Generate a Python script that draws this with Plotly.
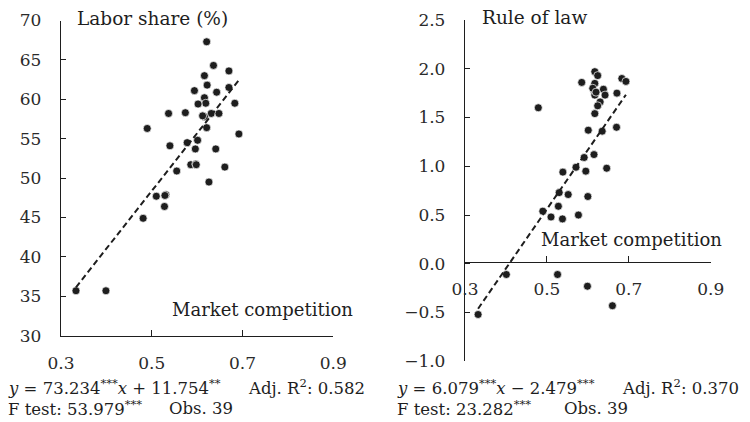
import plotly.graph_objects as go

# Market competition index and labor share (%) for 39 observations
comp_a = [0.621, 0.636, 0.616, 0.670, 0.622, 0.594, 0.643, 0.670, 0.616, 0.619,
          0.602, 0.683, 0.537, 0.574, 0.631, 0.648, 0.616, 0.621, 0.490, 0.692,
          0.601, 0.578, 0.540, 0.596, 0.641, 0.586, 0.597, 0.661, 0.555, 0.626,
          0.510, 0.531, 0.528, 0.481, 0.333, 0.399, 0.612, 0.598, 0.529]
labor = [67.3, 64.3, 63.0, 63.6, 61.8, 61.1, 60.9, 61.5, 60.2, 59.5,
         59.4, 59.5, 58.2, 58.3, 58.2, 58.2, 57.8, 56.4, 56.3, 55.6,
         54.8, 54.5, 54.1, 53.7, 53.7, 51.7, 51.8, 51.4, 50.9, 49.5,
         47.7, 47.9, 46.4, 44.9, 35.7, 35.7, 57.9, 51.7, 47.8]

# Market competition index and rule of law score for 39 observations
comp_b = [0.479, 0.585, 0.617, 0.624, 0.617, 0.616, 0.638, 0.642, 0.617, 0.630,
          0.683, 0.693, 0.671, 0.617, 0.601, 0.635, 0.670, 0.591, 0.615, 0.571,
          0.539, 0.595, 0.646, 0.530, 0.552, 0.600, 0.528, 0.490, 0.510, 0.538,
          0.577, 0.401, 0.526, 0.599, 0.660, 0.332, 0.624, 0.612, 0.620]
rule_law = [1.60, 1.86, 1.97, 1.93, 1.85, 1.77, 1.79, 1.73, 1.73, 1.66,
            1.90, 1.87, 1.75, 1.54, 1.37, 1.36, 1.40, 1.09, 1.12, 0.99,
            0.94, 0.95, 0.98, 0.73, 0.71, 0.69, 0.59, 0.54, 0.48, 0.46,
            0.50, -0.11, -0.11, -0.23, -0.43, -0.52, 1.62, 1.80, 1.76]

# OLS fits reported under each panel: (slope, intercept)
fit_a = (73.234, 11.754)
fit_b = (6.079, -2.479)

# Regression statistics: adjusted R², F statistic, observations
stats_a = ("0.582", "53.979", 39)
stats_b = ("0.370", "23.282", 39)

x_ticks = [0.3, 0.5, 0.7, 0.9]

W, H = 750, 422
FONT = "DejaVu Serif"
INK = "#1e1e1e"


def px(x):
    return x / W


def py(y):
    return 1 - y / H


def fit_line(xs, coef):
    lo, hi = min(xs), max(xs)
    return [lo, hi], [coef[0] * lo + coef[1], coef[0] * hi + coef[1]]


fig = go.Figure()

marker = dict(color=INK, size=8, line=dict(color="white", width=0.7))
line_style = dict(color=INK, width=2, dash="6px,3.5px")

fig.add_trace(go.Scatter(x=comp_a, y=labor, mode="markers", marker=marker,
                         xaxis="x", yaxis="y", showlegend=False))
lx, ly = fit_line(comp_a, fit_a)
fig.add_trace(go.Scatter(x=lx, y=ly, mode="lines", line=line_style,
                         xaxis="x", yaxis="y", showlegend=False))

fig.add_trace(go.Scatter(x=comp_b, y=rule_law, mode="markers", marker=marker,
                         xaxis="x2", yaxis="y2", showlegend=False))
lx, ly = fit_line(comp_b, fit_b)
fig.add_trace(go.Scatter(x=lx, y=ly, mode="lines", line=line_style,
                         xaxis="x2", yaxis="y2", showlegend=False))

tickfont = dict(family=FONT, size=17, color="#2a2a2a")
axis_common = dict(showline=True, linecolor=INK, linewidth=1.3, showgrid=False,
                   zeroline=False, ticks="inside", tickcolor=INK, tickwidth=1.3,
                   tickfont=tickfont, automargin=False)

fig.update_layout(
    template="none",
    width=W, height=H,
    margin=dict(l=0, r=0, t=0, b=0, pad=0),
    paper_bgcolor="white", plot_bgcolor="white",
    xaxis=dict(domain=[px(61), px(333.3)], range=[0.3, 0.9], tickvals=x_ticks,
               tickformat=".1f", anchor="y", ticklen=6, ticklabelstandoff=12,
               **axis_common),
    yaxis=dict(domain=[py(335.7), py(20.5)], range=[30, 70], dtick=5,
               anchor="x", ticklen=5, ticklabelstandoff=15, **axis_common),
    xaxis2=dict(domain=[px(465), px(710.7)], range=[0.3, 0.9], tickvals=x_ticks,
                tickformat=".1f", anchor="free", position=py(262.3), ticklen=6,
                ticklabelstandoff=11, **axis_common),
    yaxis2=dict(domain=[py(361.3), py(20)], range=[-1, 2.5], dtick=0.5,
                tickformat=".1f", anchor="x2", ticklen=5, ticklabelstandoff=15,
                **axis_common),
)


def label(x, y, text, size=18):
    fig.add_annotation(x=px(x), y=py(y), xref="paper", yref="paper", text=text,
                       showarrow=False, xanchor="left", yanchor="middle",
                       font=dict(family=FONT, size=size, color=INK))


label(75, 19, "Labor share (%)", size=18.5)
label(480, 17, "Rule of law", size=18.5)
label(170, 309, "Market competition")
label(539, 239, "Market competition")


def equation(coef, stars_b, stars_a):
    sign = "+" if coef[1] >= 0 else "\u2212"
    return (f"<i>y</i> = {coef[0]:.3f}<sup>{stars_b}</sup><i>x</i> {sign} "
            f"{abs(coef[1]):.3f}<sup>{stars_a}</sup>")


def stats_block(x0, x_adj, x_obs, coef, stars, stats):
    label(x0, 387, equation(coef, *stars), size=16.5)
    label(x_adj, 387, f"Adj. R<sup>2</sup>: {stats[0]}", size=16.5)
    label(x0, 408, f"F test: {stats[1]}<sup>***</sup>", size=16.5)
    label(x_obs, 408, f"Obs. {stats[2]}", size=16.5)


stats_block(6, 246, 167, fit_a, ("***", "**"), stats_a)
stats_block(395, 620, 562, fit_b, ("***", "***"), stats_b)

fig.write_html("out.html")
